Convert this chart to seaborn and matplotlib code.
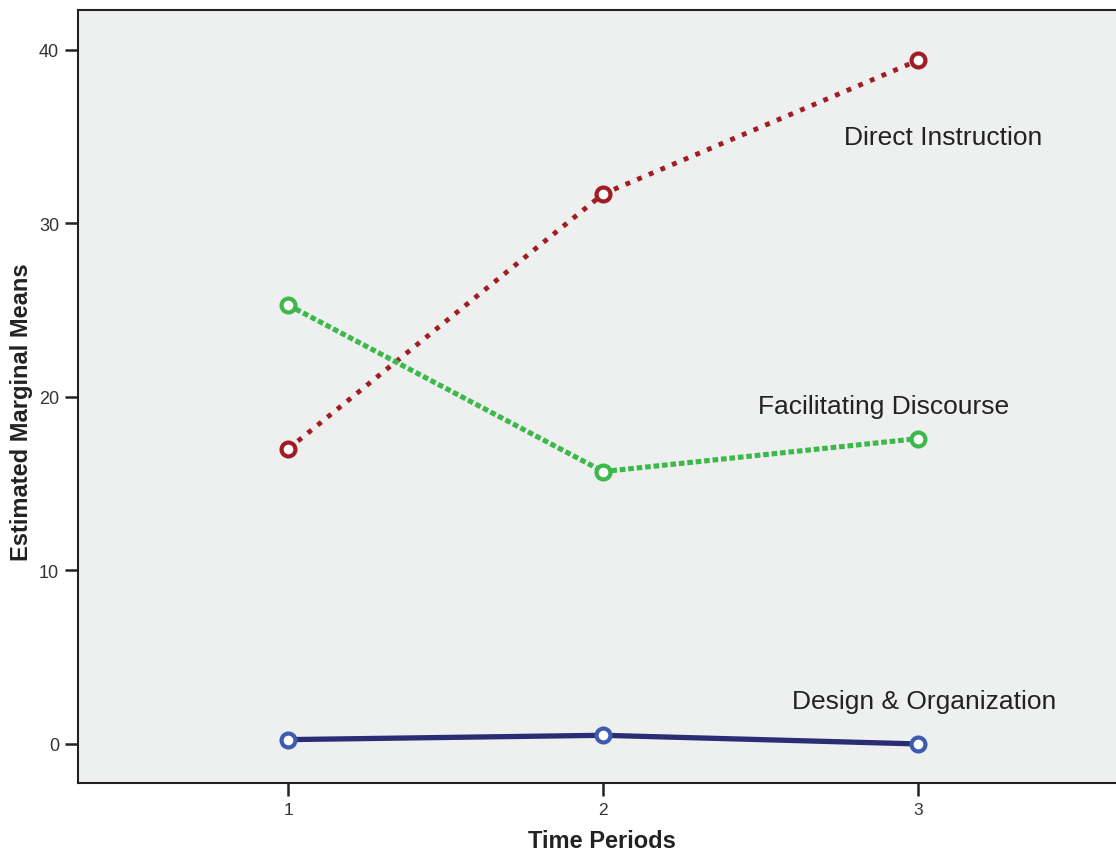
import matplotlib
matplotlib.use("Agg")
import matplotlib.pyplot as plt
import seaborn as sns
import pandas as pd

periods = [1, 2, 3]
direct_instruction = [17.0, 31.7, 39.4]
facilitating_discourse = [25.3, 15.7, 17.6]
design_organization = [0.25, 0.5, 0.0]
series_names = ["Direct Instruction", "Facilitating Discourse", "Design & Organization"]

sns.set_theme(style="white")
plt.rcParams['font.family'] = ['Liberation Sans', 'DejaVu Sans']

fig = plt.figure(figsize=(11.16, 8.54), dpi=100)
ax = fig.add_axes([78/1116, 70/854, 1 - 78/1116 + 0.002, (784-11)/854])
ax.set_facecolor("#EEF0EF")

styles = {
    "Direct Instruction": dict(line="#A11D24", mark="#A11D24", lw=3.5, dashes=(1.0, 1.6)),
    "Facilitating Discourse": dict(line="#3DB94B", mark="#3DB94B", lw=3.7, dashes=(1.1, 0.55)),
    "Design & Organization": dict(line="#2B2D74", mark="#3F5BAF", lw=3.8, dashes=None),
}
values = [direct_instruction, facilitating_discourse, design_organization]

for name, vals in zip(series_names, values):
    st = styles[name]
    df = pd.DataFrame({"period": periods, "mean": vals})
    sns.lineplot(data=df, x="period", y="mean", ax=ax, color=st["line"], linewidth=st["lw"])
    line = ax.lines[-1]
    if st["dashes"]:
        line.set_dashes(st["dashes"])
    line.set_solid_capstyle("butt")
    line.set_dash_capstyle("butt")
    ax.plot(periods, vals, linestyle="none", marker="o", markersize=10,
            markerfacecolor="white", markeredgecolor=st["mark"], markeredgewidth=3.0, zorder=5)

ax.text(3.08, 35.0, "Direct Instruction", ha="center", va="center", fontsize=19, color="#222222")
ax.text(2.89, 19.5, "Facilitating Discourse", ha="center", va="center", fontsize=19, color="#222222")
ax.text(3.02, 2.5, "Design & Organization", ha="center", va="center", fontsize=19, color="#222222")

ax.set_xlim(0.333, 3.635)
ax.set_ylim(-2.25, 42.3)
ax.set_xticks(periods)
ax.set_xticklabels([str(p) for p in periods])
ax.set_yticks([0, 10, 20, 30, 40])
ax.set_yticklabels(["0", "10", "20", "30", "40"])
ax.tick_params(axis="both", direction="out", length=9.5, width=1.8, color="#222222",
               labelsize=12.5, labelcolor="#333333", bottom=True, left=True, pad=4)
ax.tick_params(axis="y", labelsize=13)

for side in ["left", "bottom", "top"]:
    ax.spines[side].set_visible(True)
    ax.spines[side].set_color("#222222")
    ax.spines[side].set_linewidth(1.5)
ax.spines["right"].set_visible(False)

ax.set_xlabel("Time Periods", fontsize=17, fontweight="bold", color="#222222")
ax.set_ylabel("Estimated Marginal Means", fontsize=17, fontweight="bold", color="#222222")
ax.xaxis.set_label_coords(0.504, -0.060)
ax.yaxis.set_label_coords(-0.043, 0.481)

fig.savefig("out.png", dpi=100, facecolor="white")
